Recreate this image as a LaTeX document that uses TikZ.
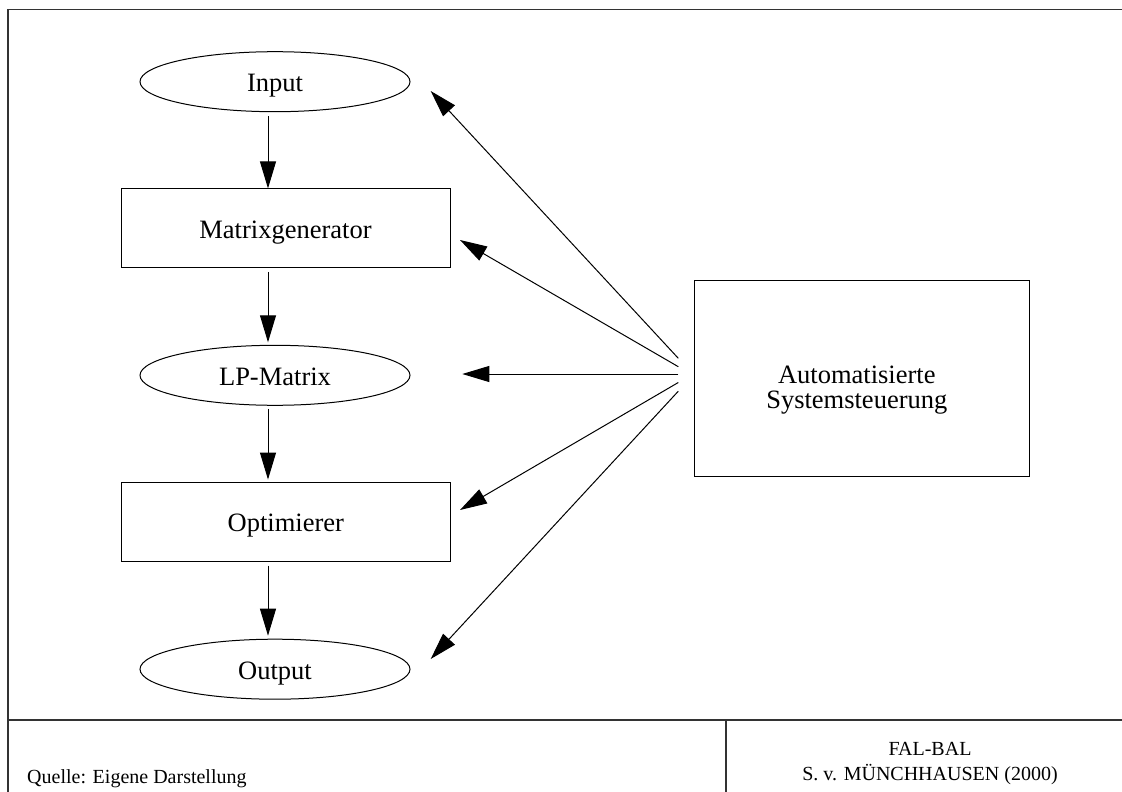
\documentclass[tikz,border=0pt]{standalone}
\usepackage{fontspec}
\setmainfont{Liberation Serif}
\usetikzlibrary{arrows.meta,shapes.geometric}

\tikzset{
  every picture/.style={x=1pt,y=-1pt},
  frameline/.style={line width=1.4pt,draw=black!80},
  oval/.style={ellipse,draw,line width=1pt,minimum width=270pt,minimum height=60pt,inner sep=0pt,
    text height=22pt,text depth=2pt,font=\fontsize{26.5}{25}\selectfont},
  stepbox/.style={rectangle,draw,line width=1pt,minimum width=329pt,minimum height=78.5pt,inner sep=0pt,
    text height=22pt,text depth=2pt,font=\fontsize{26.5}{25}\selectfont},
  flow/.style={line width=1pt,-{Triangle[length=27pt,width=16pt]}},
  footnote/.style={font=\fontsize{20}{25}\selectfont,inner sep=0pt}
}

\begin{document}
\begin{tikzpicture}
\useasboundingbox (0,0) rectangle (1122,792);

% page frame and footer grid
\draw[frameline] (8,792) -- (8,9.3) -- (1122,9.3);
\draw[frameline] (8,720) -- (1122,720);
\draw[frameline] (726,720) -- (726,792);

% process chain
\node[oval]    (input)  at (275,81.7)    {Input};
\node[stepbox] (matrix) at (285.5,228.2) {Matrixgenerator};
\node[oval]    (lp)     at (275,375.3)   {LP-Matrix};
\node[stepbox] (opt)    at (285.8,521.8) {Optimierer};
\node[oval]    (output) at (275,669.2)   {Output};

% control unit
\node[rectangle,draw,line width=1pt,minimum width=335pt,minimum height=196pt,inner sep=0pt]
  (auto) at (861.8,378) {};
\node[align=center,inner sep=0pt,font=\fontsize{26.5}{25}\selectfont]
  (autotext) at ([xshift=-5pt,yshift=-12pt]auto.center) {Automatisierte\\Systemsteuerung};

% vertical flow along the spine
\coordinate (spine) at (268,0);
\draw[flow,shorten <=4pt] (input.south -| spine)  -- (matrix.north -| spine);
\draw[flow,shorten <=4pt,shorten >=2.5pt] (matrix.south -| spine) -- (lp.north -| spine);
\draw[flow,shorten <=3pt,shorten >=2.5pt] (lp.south -| spine)     -- (opt.north -| spine);
\draw[flow,shorten <=4pt,shorten >=3pt] (opt.south -| spine)    -- (output.north -| spine);

% control connections fanning out from the control unit
\coordinate (s1) at (678.3,358.3);
\coordinate (s2) at (678.3,366.7);
\coordinate (s3) at (678.3,374);
\coordinate (s4) at (678.3,382.5);
\coordinate (s5) at (678.3,391.2);
\coordinate (t1) at (430.7,91);
\coordinate (t2) at (460,240);
\coordinate (t3) at (462.3,374);
\coordinate (t4) at (460,510);
\coordinate (t5) at (430.7,659);
\draw[flow] (s1) -- (t1);
\draw[flow] (s2) -- (t2);
\draw[flow] (s3) -- (t3);
\draw[flow] (s4) -- (t4);
\draw[flow] (s5) -- (t5);

% footer texts
\node[footnote,anchor=base west] (src) at (27,783) {Quelle: Eigene Darstellung};
\node[footnote,anchor=base] (org) at (930,755) {FAL-BAL};
\node[footnote,anchor=base] (auth) at (930,780) {S. v. MÜNCHHAUSEN (2000)};
\end{tikzpicture}
\end{document}
